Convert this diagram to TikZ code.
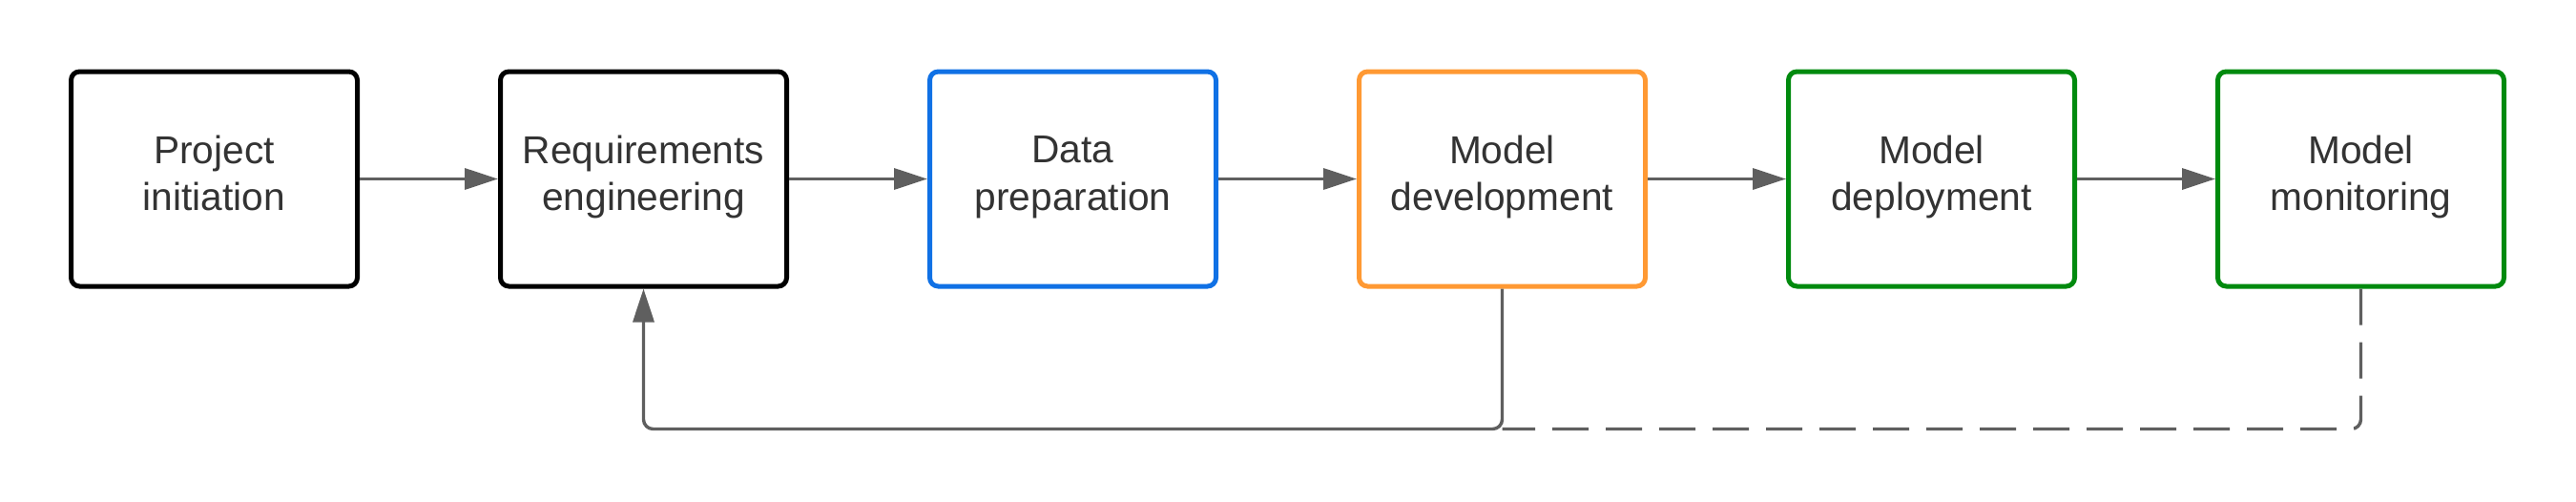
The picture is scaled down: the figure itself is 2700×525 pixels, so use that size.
\documentclass[tikz,border=0pt]{standalone}
\usepackage{fontspec}
\setmainfont{Liberation Sans}
\usetikzlibrary{arrows.meta}
\definecolor{cblue}{HTML}{1071E5}
\definecolor{corange}{HTML}{FF9933}
\definecolor{cgreen}{HTML}{008A0E}
\definecolor{cgray}{HTML}{5F5F5F}
\definecolor{ctext}{HTML}{333333}
\newcommand\lnstrut{\rule[-12pt]{0pt}{38.5pt}}
\newcommand\twolines[2]{\lnstrut#1\\\lnstrut#2}
\tikzset{
  stagebox/.style={draw=#1, line width=5pt, rounded corners=9pt, fill=white,
    minimum width=300pt, minimum height=225pt, inner sep=0pt,
    align=center, text=ctext, font=\fontsize{40.7}{49.5}\selectfont},
  conn/.style={draw=cgray, line width=3.4pt},
  tip/.style={-{Triangle[length=35pt,width=22pt]}},
  dashconn/.style={conn, dash pattern=on 38pt off 18pt}
}
\begin{document}
\begin{tikzpicture}[x=1pt,y=1pt]
\useasboundingbox (0,0) rectangle (2700,-525);
\node[stagebox=black]   (b1) at (224.5,-187.5)  {\twolines{Project}{initiation}};
\node[stagebox=black]   (b2) at (674.5,-187.5)  {\twolines{Requirements}{engineering}};
\node[stagebox=cblue]   (b3) at (1124.5,-187.5) {\twolines{Data}{preparation}};
\node[stagebox=corange] (b4) at (1574.5,-187.5) {\twolines{Model}{development}};
\node[stagebox=cgreen]  (b5) at (2024.5,-187.5) {\twolines{Model}{deployment}};
\node[stagebox=cgreen]  (b6) at (2474.5,-187.5) {\twolines{Model}{monitoring}};
\coordinate (fbL) at (674.5,-449.5);
\coordinate (fbM) at (1574.5,-449.5);
\draw[conn,tip] (b1.east) -- (b2.west);
\draw[conn,tip] (b2.east) -- (b3.west);
\draw[conn,tip] (b3.east) -- (b4.west);
\draw[conn,tip] (b4.east) -- (b5.west);
\draw[conn,tip] (b5.east) -- (b6.west);
\draw[dashconn, rounded corners=10pt] (b6.south) |- (fbM);
\draw[conn, tip, rounded corners=10pt] (b4.south) -- (fbM) -- (fbL) -- (b2.south);
\end{tikzpicture}
\end{document}
